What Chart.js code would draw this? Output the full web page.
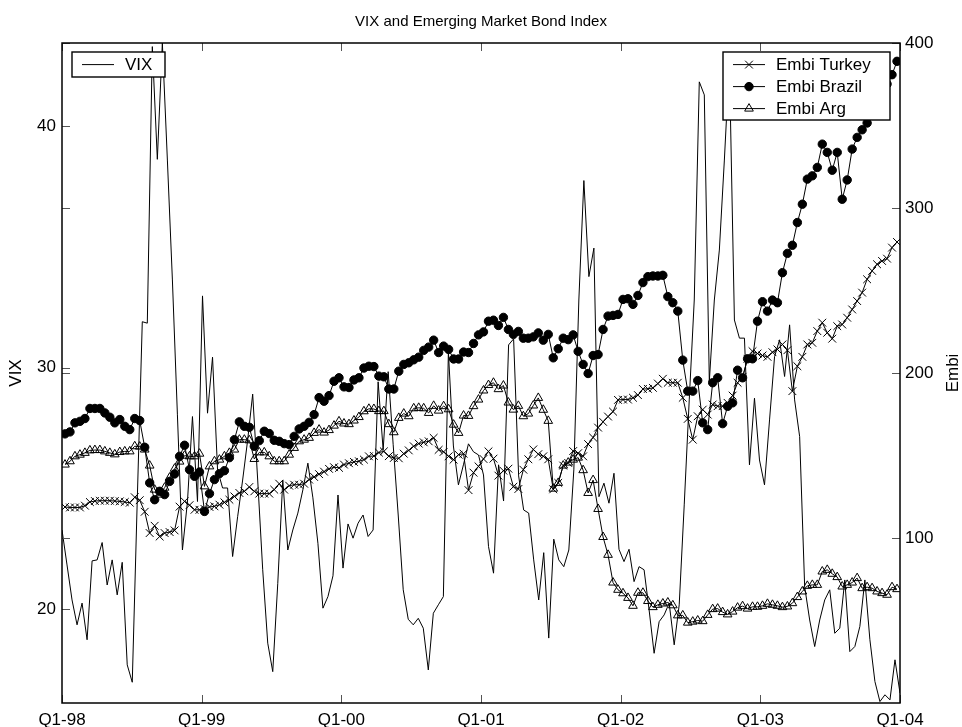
<!DOCTYPE html>
<html>
<head>
<meta charset="utf-8">
<script src="https://cdn.jsdelivr.net/npm/chart.js@4/dist/chart.umd.min.js"></script>
<style>
  html, body { margin: 0; padding: 0; background: #fff; }
</style>
</head>
<body>
<canvas id="vixChart" width="962" height="727"></canvas>
<script>
// x axis: one label per year boundary
const yearLabels = ['Q1-98', 'Q1-99', 'Q1-00', 'Q1-01', 'Q1-02', 'Q1-03', 'Q1-04'];
const vixTicks = [20, 30, 40];
const embiTicks = [100, 200, 300, 400];

// VIX, left axis (168 observations, Jan-98 .. Dec-03)
const vix = [
  23.27, 21.82, 20.37, 19.34, 20.24, 18.72, 21.99, 22.03, 22.75, 20.99,
  22.03, 20.58, 21.93, 17.68, 16.96, 24.52, 31.90, 31.84, 43.30, 38.63,
  43.45, 38.60, 33.63, 28.04, 22.44, 24.43, 27.97, 24.45, 32.97, 28.11,
  30.43, 25.76, 25.01, 25.01, 22.17, 23.82, 25.34, 27.00, 28.90, 25.34,
  21.62, 18.58, 17.40, 21.06, 25.34, 22.44, 23.27, 23.97, 24.93, 26.04,
  24.60, 22.72, 20.03, 20.51, 21.37, 24.72, 21.69, 23.52, 22.93, 23.55,
  23.89, 23.00, 23.27, 29.41, 26.59, 29.83, 26.80, 23.89, 20.79, 19.57,
  19.34, 19.61, 19.20, 17.47, 19.82, 20.17, 20.51, 30.65, 26.75, 25.14,
  25.97, 26.84, 26.51, 26.38, 25.55, 22.58, 21.48, 25.97, 24.47, 30.94,
  31.19, 25.51, 24.10, 23.97, 22.03, 20.37, 22.33, 18.79, 22.89, 22.03,
  21.75, 22.44, 25.76, 32.80, 37.75, 33.77, 34.95, 24.65, 25.21, 24.38,
  25.62, 22.47, 21.96, 22.47, 21.13, 21.75, 21.62, 19.96, 18.16, 19.47,
  19.75, 20.24, 18.51, 20.17, 24.31, 28.66, 32.80, 41.84, 41.30, 29.42,
  32.80, 34.87, 38.60, 42.68, 31.97, 31.22, 31.22, 25.97, 28.73, 26.17,
  25.14, 27.83, 30.45, 31.15, 29.63, 31.77, 28.66, 27.14, 20.92, 19.54,
  18.44, 19.54, 20.37, 20.79, 18.99, 19.20, 21.20, 18.23, 18.44, 19.27,
  21.20, 18.72, 16.99, 16.16, 16.44, 16.23, 17.89, 16.51
];

// EMBI spreads, right axis
const embiTurkey = [
  118.8, 118.5, 118.5, 118.5, 119.6, 121.8, 122.4, 122.6, 122.6, 122.6,
  122.4, 122.2, 121.8, 121.4, 124.7, 122.9, 115.9, 103.0, 107.4, 100.9,
  103.0, 103.6, 104.6, 119.0, 122.2, 119.9, 117.1, 117.1, 117.6, 118.8,
  119.2, 120.2, 121.6, 123.2, 125.2, 127.3, 128.3, 130.9, 128.3, 126.9,
  126.9, 126.9, 129.3, 132.9, 129.3, 131.7, 132.3, 132.3, 132.9, 135.4,
  137.0, 138.7, 140.2, 141.9, 142.9, 142.5, 144.5, 145.3, 146.1, 146.5,
  147.5, 149.5, 149.7, 151.8, 152.5, 149.6, 148.5, 148.3, 151.1, 153.1,
  155.6, 157.2, 158.0, 158.6, 160.7, 153.4, 152.2, 149.5, 147.5, 150.5,
  151.1, 129.0, 139.6, 143.4, 147.9, 152.5, 148.1, 137.8, 140.8, 142.0,
  131.1, 129.7, 141.4, 147.7, 153.7, 150.8, 149.5, 147.7, 129.5, 133.4,
  143.9, 145.5, 152.7, 151.4, 149.5, 156.9, 160.9, 166.9, 170.4, 173.6,
  176.6, 183.7, 183.9, 183.9, 185.0, 186.6, 190.3, 190.4, 191.0, 193.6,
  196.5, 194.1, 194.1, 194.1, 185.0, 172.2, 159.6, 173.8, 177.8, 174.8,
  180.9, 179.9, 179.9, 181.9, 186.3, 194.1, 197.7, 208.6, 213.2, 211.8,
  210.6, 209.8, 212.6, 214.3, 217.3, 213.8, 189.0, 204.1, 209.8, 217.3,
  218.3, 225.4, 230.5, 224.4, 220.8, 228.4, 229.4, 233.5, 238.5, 243.6,
  248.7, 256.8, 261.9, 265.9, 267.9, 269.3, 276.0, 279.4
];

const embiBrazil = [
  163.1, 164.3, 169.8, 170.7, 172.4, 178.5, 178.5, 178.5, 175.8, 173.2,
  169.8, 171.8, 167.7, 165.7, 172.4, 171.2, 155.0, 133.4, 123.2, 128.3,
  126.3, 134.3, 138.8, 149.5, 156.2, 141.4, 137.4, 140.0, 116.1, 126.9,
  135.4, 139.0, 140.8, 148.7, 159.6, 170.4, 167.7, 167.1, 155.6, 159.0,
  164.7, 163.3, 159.2, 158.6, 157.2, 156.6, 161.6, 166.1, 167.7, 170.1,
  174.8, 185.1, 182.9, 186.3, 195.0, 197.1, 191.6, 191.2, 195.8, 197.1,
  203.0, 204.1, 203.9, 198.1, 197.7, 190.3, 190.3, 201.1, 205.2, 206.2,
  208.0, 209.6, 213.7, 215.7, 219.9, 212.4, 216.3, 214.3, 208.5, 208.5,
  212.7, 212.4, 217.9, 223.1, 224.9, 231.4, 232.0, 228.8, 233.7, 226.4,
  223.4, 225.2, 221.1, 221.1, 221.9, 224.3, 219.9, 223.4, 209.2, 214.7,
  221.1, 220.2, 223.1, 213.1, 205.2, 199.7, 210.6, 211.2, 226.4, 234.5,
  234.9, 235.5, 244.6, 245.0, 241.6, 247.0, 254.8, 258.4, 258.8, 258.8,
  259.2, 246.3, 242.6, 237.5, 207.8, 189.0, 189.0, 195.4, 169.8, 165.7,
  194.1, 197.1, 169.3, 179.8, 181.9, 201.7, 197.1, 208.6, 208.6, 231.4,
  243.2, 237.5, 244.2, 242.6, 260.8, 272.5, 277.4, 291.2, 302.3, 317.5,
  319.5, 324.6, 338.7, 333.7, 322.9, 333.7, 305.3, 317.0, 335.7, 342.8,
  347.4, 351.5, 356.9, 363.0, 369.1, 375.1, 380.8, 388.9
];

const embiArg = [
  144.5, 146.5, 149.5, 150.5, 151.6, 153.1, 153.3, 153.3, 152.5, 151.6,
  150.7, 152.1, 152.5, 152.5, 155.6, 155.4, 153.6, 143.9, 129.3, 126.3,
  130.5, 136.6, 142.0, 146.3, 149.9, 149.5, 149.5, 151.1, 131.3, 143.4,
  146.5, 147.5, 149.5, 151.6, 153.6, 159.6, 159.6, 159.2, 147.9, 151.9,
  151.9, 149.5, 146.5, 146.5, 146.5, 150.5, 154.6, 158.6, 159.6, 160.7,
  163.7, 165.7, 163.9, 165.4, 168.1, 170.7, 169.4, 169.0, 171.2, 173.3,
  176.8, 178.3, 178.2, 176.9, 176.9, 169.0, 164.1, 172.8, 175.4, 173.8,
  178.6, 178.9, 178.6, 175.8, 180.1, 177.2, 179.9, 178.0, 168.7, 163.7,
  174.2, 174.0, 179.9, 183.9, 189.4, 192.7, 194.1, 190.2, 192.4, 182.1,
  177.8, 180.1, 173.8, 175.4, 180.3, 184.9, 177.7, 171.0, 129.9, 133.4,
  143.9, 145.7, 147.5, 148.7, 141.1, 127.3, 135.1, 117.6, 100.6, 89.8,
  73.0, 68.6, 66.5, 63.7, 58.9, 66.8, 66.8, 61.8, 58.1, 59.5,
  60.3, 60.9, 59.2, 53.1, 53.1, 48.7, 49.3, 50.0, 49.6, 53.4,
  56.9, 57.2, 55.1, 53.7, 55.4, 57.8, 58.7, 57.2, 58.3, 58.3,
  58.9, 60.1, 59.5, 58.9, 58.1, 58.5, 60.5, 64.2, 67.6, 71.0,
  71.6, 71.6, 79.7, 80.7, 78.3, 76.3, 70.6, 71.6, 73.0, 75.7,
  69.6, 70.2, 69.6, 67.6, 66.6, 65.6, 70.2, 69.0
];

const FONT = '"Liberation Sans", Arial, Helvetica, sans-serif';
Chart.defaults.font.family = FONT;
Chart.defaults.color = '#000';

const toPoints = arr => arr.map((v, i) => ({ x: i, y: v }));

function legendMarker(ctx, ds, x, y) {
  if (!ds.pointStyle) return;
  ctx.fillStyle = ds.pointBackgroundColor || 'rgba(0,0,0,0)';
  ctx.strokeStyle = '#000';
  ctx.lineWidth = 1;
  if (Chart.helpers && Chart.helpers.drawPoint) {
    Chart.helpers.drawPoint(ctx, { pointStyle: ds.pointStyle, radius: ds.pointRadius, rotation: 0, borderWidth: 1 }, x, y);
  }
}

function drawLegendBox(ctx, x, y, w, h, items) {
  ctx.fillStyle = '#fff';
  ctx.fillRect(x, y, w, h);
  ctx.strokeStyle = '#000';
  ctx.lineWidth = 1.4;
  ctx.strokeRect(x, y, w, h);
  items.forEach((ds, k) => {
    const ry = y + 12.6 + k * 22;
    ctx.strokeStyle = '#000';
    ctx.lineWidth = 1;
    ctx.beginPath();
    ctx.moveTo(x + 10, ry);
    ctx.lineTo(x + 42, ry);
    ctx.stroke();
    legendMarker(ctx, ds, x + 26, ry);
    ctx.fillStyle = '#000';
    ctx.font = '17px ' + FONT;
    ctx.textBaseline = 'middle';
    ctx.textAlign = 'left';
    ctx.fillText(ds.label, x + 53, ry + 1);
  });
}

// frame, inward tick marks (with mirrored ticks), right axis title and the two legend boxes
const frameAndLegends = {
  id: 'frameAndLegends',
  afterDraw(chart) {
    const { ctx, chartArea: a, scales } = chart;
    const tickLen = 8;
    ctx.save();
    ctx.lineWidth = 1;
    ctx.strokeStyle = '#555';
    ctx.beginPath();
    scales.x.ticks.forEach(t => {
      const px = Math.round(scales.x.getPixelForValue(t.value)) + 0.5;
      ctx.moveTo(px, a.bottom); ctx.lineTo(px, a.bottom - tickLen);
      ctx.moveTo(px, a.top); ctx.lineTo(px, a.top + tickLen);
    });
    scales.y.ticks.forEach(t => {
      const py = Math.round(scales.y.getPixelForValue(t.value)) + 0.5;
      ctx.moveTo(a.left, py); ctx.lineTo(a.left + tickLen, py);
    });
    scales.y2.ticks.forEach(t => {
      const py = Math.round(scales.y2.getPixelForValue(t.value)) + 0.5;
      ctx.moveTo(a.right, py); ctx.lineTo(a.right - tickLen, py);
      ctx.moveTo(a.left, py); ctx.lineTo(a.left + tickLen, py);
    });
    ctx.stroke();

    ctx.strokeStyle = '#000';
    ctx.lineWidth = 1.5;
    ctx.strokeRect(a.left, a.top, a.right - a.left, a.bottom - a.top);

    // right axis title, reading bottom to top like the left one
    ctx.save();
    ctx.translate(scales.y2.right - 9, (a.top + a.bottom) / 2);
    ctx.rotate(-Math.PI / 2);
    ctx.fillStyle = '#000';
    ctx.font = '17px ' + FONT;
    ctx.textAlign = 'center';
    ctx.textBaseline = 'middle';
    ctx.fillText('Embi', 0, 0);
    ctx.restore();

    const ds = chart.data.datasets;
    drawLegendBox(ctx, a.left + 10, a.top + 9, 93, 25, [ds[3]]);
    drawLegendBox(ctx, a.right - 177, a.top + 9, 167, 68, [ds[0], ds[1], ds[2]]);
    ctx.restore();
  }
};

new Chart(document.getElementById('vixChart'), {
  type: 'line',
  data: {
    datasets: [
      {
        label: 'Embi Turkey',
        data: toPoints(embiTurkey),
        xAxisID: 'x', yAxisID: 'y2',
        borderColor: '#000', borderWidth: 1,
        pointStyle: 'crossRot', pointRadius: 5.5,
        pointBorderColor: '#000', pointBorderWidth: 1,
        pointBackgroundColor: 'rgba(0,0,0,0)'
      },
      {
        label: 'Embi Brazil',
        data: toPoints(embiBrazil),
        xAxisID: 'x', yAxisID: 'y2',
        borderColor: '#000', borderWidth: 1,
        pointStyle: 'circle', pointRadius: 4.2,
        pointBorderColor: '#000', pointBorderWidth: 1,
        pointBackgroundColor: '#000'
      },
      {
        label: 'Embi Arg',
        data: toPoints(embiArg),
        xAxisID: 'x', yAxisID: 'y2',
        borderColor: '#000', borderWidth: 1,
        pointStyle: 'triangle', pointRadius: 5,
        pointBorderColor: '#000', pointBorderWidth: 1,
        pointBackgroundColor: 'rgba(0,0,0,0)'
      },
      {
        label: 'VIX',
        data: toPoints(vix),
        xAxisID: 'xv', yAxisID: 'y',
        borderColor: '#000', borderWidth: 1,
        pointRadius: 0
      }
    ]
  },
  options: {
    responsive: false,
    animation: false,
    layout: { padding: 0 },
    elements: { line: { tension: 0 } },
    plugins: {
      legend: { display: false },
      tooltip: { enabled: false },
      title: {
        display: true,
        text: 'VIX and Emerging Market Bond Index',
        color: '#000',
        font: { size: 15, weight: 'normal' },
        padding: { top: 13, bottom: 12 }
      }
    },
    scales: {
      x: {
        type: 'linear', position: 'bottom',
        min: -0.6, max: 167.6,
        afterBuildTicks: s => { s.ticks = yearLabels.map((_, k) => ({ value: -0.6 + k * 168.2 / 6 })); },
        afterFit: s => { s.height = 24; },
        grid: { display: false, drawTicks: false },
        border: { display: false },
        ticks: {
          autoSkip: false, maxRotation: 0, padding: 7,
          font: { size: 17 }, color: '#000',
          callback: (v, i) => yearLabels[i]
        }
      },
      xv: {
        type: 'linear', display: false, min: 0, max: vix.length - 1
      },
      y: {
        type: 'linear', position: 'left',
        min: 16.1, max: 43.45,
        afterBuildTicks: s => { s.ticks = vixTicks.map(v => ({ value: v })); },
        afterFit: s => { s.width = 62; },
        grid: { display: false, drawTicks: false },
        border: { display: false },
        ticks: { font: { size: 17 }, color: '#000', padding: 6 },
        title: { display: true, text: 'VIX', color: '#000', font: { size: 17 }, padding: { top: 6, bottom: 0 } }
      },
      y2: {
        type: 'linear', position: 'right',
        min: 0, max: 400,
        afterBuildTicks: s => { s.ticks = embiTicks.map(v => ({ value: v })); },
        afterFit: s => { s.width = 62; },
        grid: { display: false, drawTicks: false },
        border: { display: false },
        ticks: { font: { size: 17 }, color: '#000', padding: 5 }
      }
    }
  },
  plugins: [frameAndLegends]
});
</script>
</body>
</html>
